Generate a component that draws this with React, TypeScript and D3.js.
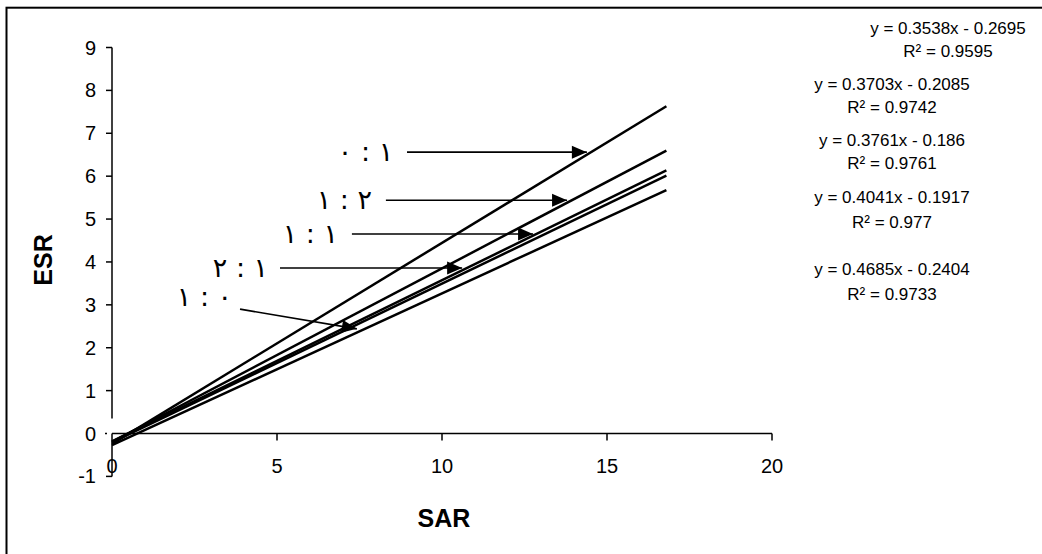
import React from "react";
import * as d3 from "d3";

// ---- data ----
const slopes = [0.3538, 0.3703, 0.3761, 0.4041, 0.4685];
const intercepts = [-0.2695, -0.2085, -0.186, -0.1917, -0.2404];
const rSquared = ["0.9595", "0.9742", "0.9761", "0.977", "0.9733"];
const sarRange = [0, 16.8];
const xTicks = [0, 5, 10, 15, 20];
const yTicks = [-1, 0, 1, 2, 3, 4, 5, 6, 7, 8, 9];

// ratio annotations (logical RTL order), top to bottom
const ratioLabels = ["١ : ٠", "٢ : ١", "١ : ١", "١ : ٢", "٠ : ١"];
const ratioTextX = [8.52, 7.88, 6.85, 4.73, 3.64];
const ratioTextY = [6.56, 5.44, 4.65, 3.86, 3.18];
const arrowFromX = [8.94, 8.3, 7.27, 5.09, 3.88];
const arrowFromY = [6.56, 5.44, 4.65, 3.86, 2.9];
const arrowToX = [14.39, 13.79, 12.76, 10.61, 7.42];
const arrowToY = [6.56, 5.44, 4.65, 3.86, 2.44];

// ---- layout ----
const W = 1042;
const H = 554;
const plot = { left: 112, right: 772, top: 47.5, bottom: 476.4 };
const eqLayout = [
  { cx: 948, y: 34, ry: 57 },
  { cx: 892, y: 90, ry: 113 },
  { cx: 892, y: 146, ry: 169 },
  { cx: 892, y: 203, ry: 228 },
  { cx: 892, y: 275, ry: 300 },
];

export default function App() {
  const x = d3.scaleLinear().domain([0, 20]).range([plot.left, plot.right]);
  const y = d3.scaleLinear().domain([-1, 9]).range([plot.bottom, plot.top]);

  const fontAxis = "'Liberation Sans', Arial, sans-serif";

  const arrowHead = (x1: number, y1: number, x2: number, y2: number) => {
    const a = Math.atan2(y2 - y1, x2 - x1);
    const len = 15;
    const hw = 6.5;
    const bx = x2 - len * Math.cos(a);
    const by = y2 - len * Math.sin(a);
    const px = -Math.sin(a) * hw;
    const py = Math.cos(a) * hw;
    return `M${x2},${y2}L${bx + px},${by + py}L${bx - px},${by - py}Z`;
  };

  return (
    <svg
      width={W}
      height={H}
      style={{ position: "absolute", left: 0, top: 0, background: "#fff" }}
    >
      <rect x={6.5} y={7.7} width={1200} height={700} fill="#fff" stroke="#000" strokeWidth={2} />

      {/* y axis (with small break near zero) */}
      <line x1={x(0)} x2={x(0)} y1={y(9)} y2={y(0.35)} stroke="#000" strokeWidth={1.5} />
      <line x1={x(0)} x2={x(0)} y1={y(0)} y2={y(-1)} stroke="#000" strokeWidth={1.5} />
      {yTicks.map((t) => (
        <g key={"yt" + t}>
          <line
            x1={t === 0 ? x(0) - 7 : x(0) - 6}
            x2={t === 0 ? x(0) - 5 : x(0)}
            y1={y(t)}
            y2={y(t)}
            stroke="#000"
            strokeWidth={1.5}
          />
          <text
            x={x(0) - 16}
            y={y(t) + 7}
            textAnchor="end"
            fontFamily={fontAxis}
            fontSize={20}
          >
            {t}
          </text>
        </g>
      ))}

      {/* x axis */}
      <line x1={x(0)} x2={x(20)} y1={y(0)} y2={y(0)} stroke="#000" strokeWidth={1.5} />
      {xTicks.map((t) => (
        <g key={"xt" + t}>
          {t !== 0 && (
            <line x1={x(t)} x2={x(t)} y1={y(0)} y2={y(0) + 7} stroke="#000" strokeWidth={1.5} />
          )}
          <text x={x(t)} y={473} textAnchor="middle" fontFamily={fontAxis} fontSize={20}>
            {t}
          </text>
        </g>
      ))}

      {/* regression lines */}
      {slopes.map((m, i) => {
        const d = d3
          .line<number>()
          .x((v) => x(v))
          .y((v) => y(m * v + intercepts[i]))(sarRange);
        return <path key={"l" + i} d={d || ""} fill="none" stroke="#000" strokeWidth={2.5} />;
      })}

      {/* ratio annotations */}
      {ratioLabels.map((lab, i) => {
        const x1 = x(arrowFromX[i]);
        const y1 = y(arrowFromY[i]);
        const x2 = x(arrowToX[i]);
        const y2 = y(arrowToY[i]);
        return (
          <g key={"r" + i}>
            <text
              x={x(ratioTextX[i])}
              y={y(ratioTextY[i]) + 9}
              textAnchor="end"
              fontFamily="'DejaVu Sans', sans-serif"
              fontSize={27}
              letterSpacing={3}
              style={{ whiteSpace: "pre" }}
            >
              {lab}
            </text>
            <line x1={x1} y1={y1} x2={x2} y2={y2} stroke="#000" strokeWidth={1.6} />
            <path d={arrowHead(x1, y1, x2, y2)} fill="#000" />
          </g>
        );
      })}

      {/* trendline equations */}
      {slopes.map((m, i) => (
        <g key={"eq" + i} fontFamily={fontAxis} fontSize={17}>
          <text x={eqLayout[i].cx} y={eqLayout[i].y} textAnchor="middle">
            {`y = ${m}x - ${Math.abs(intercepts[i])}`}
          </text>
          <text x={eqLayout[i].cx} y={eqLayout[i].ry} textAnchor="middle">
            {`R² = ${rSquared[i]}`}
          </text>
        </g>
      ))}

      {/* axis titles */}
      <text
        x={444}
        y={527}
        textAnchor="middle"
        fontFamily={fontAxis}
        fontSize={25}
        fontWeight="bold"
      >
        SAR
      </text>
      <text
        transform={`translate(52,260) rotate(-90)`}
        textAnchor="middle"
        fontFamily={fontAxis}
        fontSize={25}
        fontWeight="bold"
      >
        ESR
      </text>
    </svg>
  );
}
